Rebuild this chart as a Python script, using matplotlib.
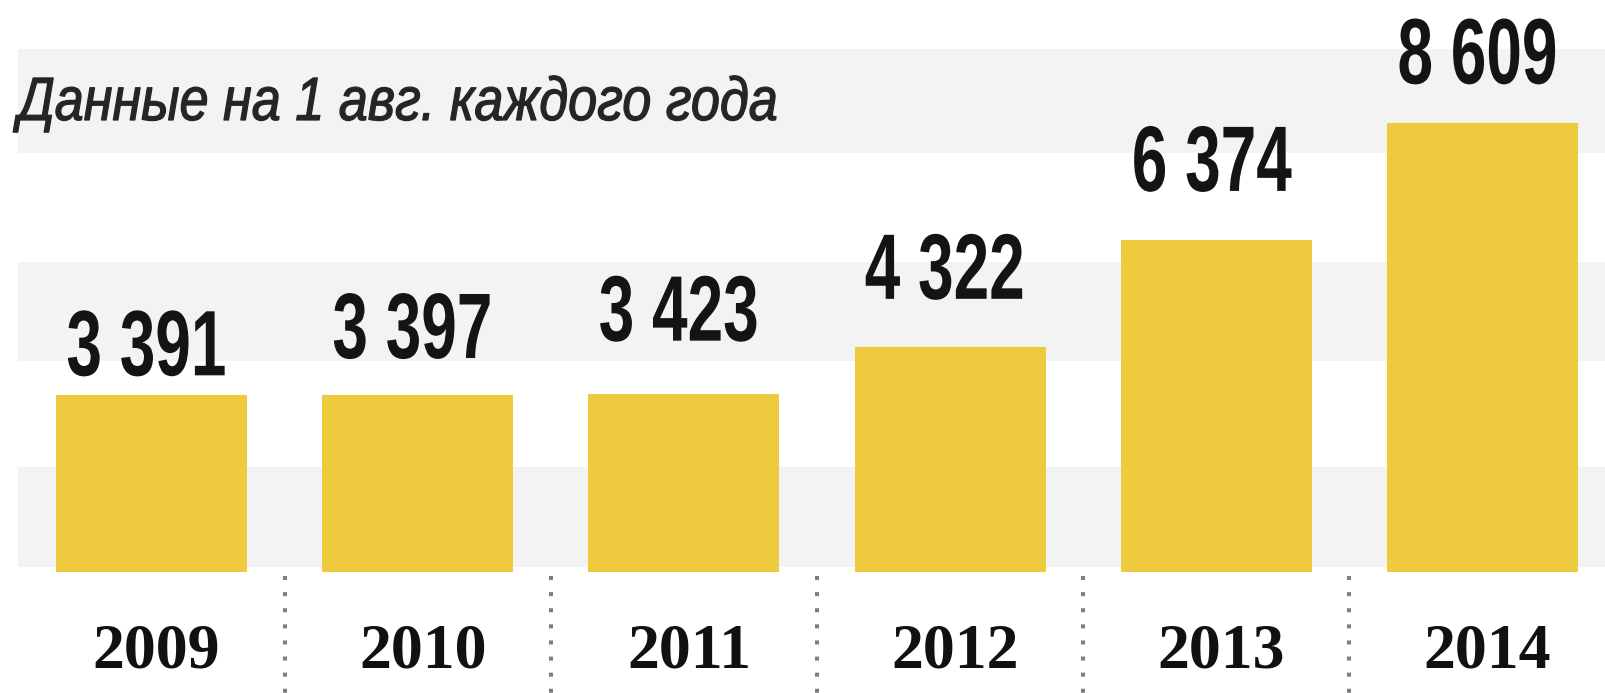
import matplotlib
matplotlib.use("Agg")
import matplotlib.pyplot as plt
from matplotlib.patheffects import AbstractPathEffect
from matplotlib.transforms import Affine2D

# ---------------- data ----------------
years = ["2009", "2010", "2011", "2012", "2013", "2014"]
values = [3391, 3397, 3423, 4322, 6374, 8609]
value_labels = ["3 391", "3 397", "3 423", "4 322", "6 374", "8 609"]
subtitle = "Данные на 1 авг. каждого года"

# ---------------- layout (pixels of the 1606x693 picture) ----------------
W, H, DPI = 1606, 693, 100
BASE_PX = 572          # bar baseline
PX_PER_UNIT = 0.0521   # vertical scale
X0_PX = 151.5          # centre of first bar
STEP_PX = 266.2        # distance between bar centres
BAR_W_PX = 191
BANDS_PX = [(49, 153), (262, 361), (467, 567)]
LABEL_GAP_PX = [20, 37, 53, 48, 49, 40]

BAR_COLOR = "#EECB3E"
BAND_COLOR = "#F3F3F4"


class Condense(AbstractPathEffect):
    """Draw text horizontally condensed (like a condensed type face)."""

    def __init__(self, sx, anchor="center", stroke=0.0):
        super().__init__()
        self.sx = sx
        self.anchor = anchor
        self.stroke = stroke

    def draw_path(self, renderer, gc, tpath, affine, rgbFace=None):
        ext = tpath.get_extents()
        cx = (ext.x0 + ext.x1) / 2 if self.anchor == "center" else 0.0
        t = Affine2D().translate(-cx, 0).scale(self.sx, 1).translate(cx, 0) + affine
        if self.stroke > 0 and rgbFace is not None:
            gc0 = renderer.new_gc()
            gc0.copy_properties(gc)
            gc0.set_linewidth(self.stroke)
            gc0.set_foreground(rgbFace)
            gc0.set_joinstyle("round")
            renderer.draw_path(gc0, tpath, t, rgbFace)
            gc0.restore()
        else:
            renderer.draw_path(gc, tpath, t, rgbFace)


fig = plt.figure(figsize=(W / DPI, H / DPI), dpi=DPI)
fig.patch.set_facecolor("white")
ax = fig.add_axes([0, 0, 1, 1])
ax.set_xlim(-X0_PX / STEP_PX, (W - X0_PX) / STEP_PX)
ax.set_ylim(-(H - BASE_PX) / PX_PER_UNIT, BASE_PX / PX_PER_UNIT)
ax.axis("off")


def ypx(p):
    return (BASE_PX - p) / PX_PER_UNIT


def xoff(p):
    return p / STEP_PX


# background bands
for top, bot in BANDS_PX:
    ax.axhspan(ypx(bot), ypx(top), xmin=18 / W, xmax=1, color=BAND_COLOR, lw=0, zorder=0)

# bars
xs = list(range(len(years)))
ax.bar(xs, values, width=BAR_W_PX / STEP_PX, color=BAR_COLOR, zorder=2, linewidth=0)

# dotted separators
for i in range(len(years) - 1):
    ax.plot([i + 0.5, i + 0.5], [ypx(576), ypx(H + 5)], linestyle=(0, (1, 3)),
            lw=2.9, color="#7E7E7E", dash_capstyle="butt", zorder=1)

# year labels
for x, y in zip(xs, years):
    ax.text(x + xoff(5), ypx(668), y, ha="center", va="baseline", fontsize=46,
            fontweight="bold", family=["Liberation Serif", "DejaVu Serif"], color="#111111")

# value labels
vtexts = []
for x, v, lab, gap in zip(xs, values, value_labels, LABEL_GAP_PX):
    t = ax.text(x - xoff(5), v + gap / PX_PER_UNIT, lab, ha="center", va="baseline",
                fontsize=67, fontweight="bold",
                family=["Liberation Sans", "DejaVu Sans"], color="#141414", zorder=3)
    vtexts.append(t)

# subtitle
st = ax.text(-X0_PX / STEP_PX + xoff(18), ypx(120), subtitle, ha="left", va="baseline",
             fontsize=44, fontstyle="italic", family=["Liberation Sans", "DejaVu Sans"],
             color="#252525", zorder=3)

# condense glyphs to match the narrow type of the original
fig.canvas.draw()
r = fig.canvas.get_renderer()
mean_w = sum(t.get_window_extent(r).width for t in vtexts) / len(vtexts)
sx_v = 160.0 / mean_w
for t in vtexts:
    t.set_path_effects([Condense(sx_v, "center")])
sx_s = 760.0 / st.get_window_extent(r).width
st.set_path_effects([Condense(sx_s, "left", stroke=0.9)])

fig.savefig("out.png", dpi=DPI, facecolor="white")
